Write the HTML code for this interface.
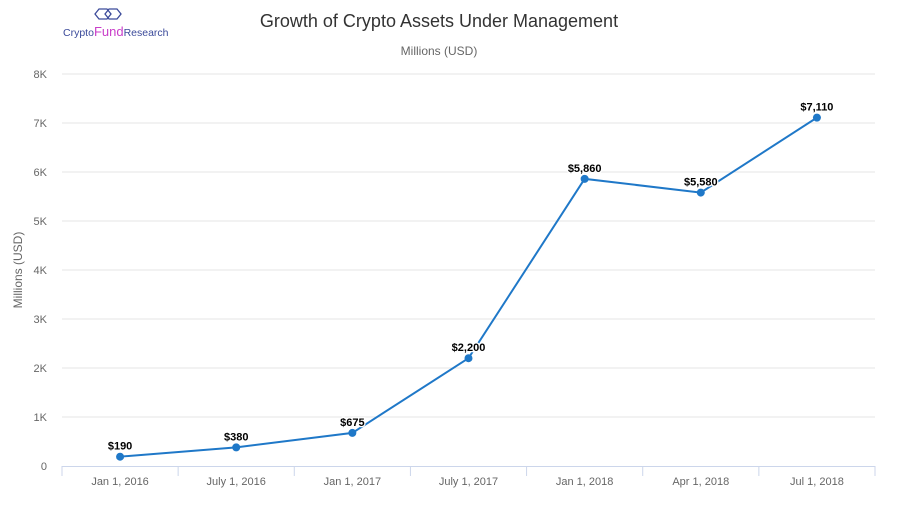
<!DOCTYPE html>
<html><head><meta charset="utf-8"><style>
body{margin:0;background:#fff;}
svg text{font-family:"Liberation Sans",sans-serif;}
</style></head><body>
<svg id="chart" width="900" height="509" xmlns="http://www.w3.org/2000/svg">
<rect width="900" height="509" fill="#fff"/>
<g>
<g fill="none" stroke="#3b4a9a" stroke-width="1.3">
<path d="M95 14 L99 9 L107 9 L111 14 L107 19 L99 19 Z"/>
<path d="M105 14 L109 9 L117 9 L121 14 L117 19 L109 19 Z"/>
</g>
<text x="63" y="36" font-size="10.5" fill="#3b4a9a">Crypto<tspan fill="#c93ec9" font-size="13">Fund</tspan>Research</text>
</g>
<text x="439" y="27" text-anchor="middle" font-size="18" fill="#333">Growth of Crypto Assets Under Management</text>
<text x="439" y="55" text-anchor="middle" font-size="12" fill="#666">Millions (USD)</text>
<text transform="translate(22,270) rotate(-90)" text-anchor="middle" font-size="12" fill="#666">Millions (USD)</text>
<g id="grid"></g><g id="yticks"></g><g id="xaxis"></g><g id="series"></g>
</svg>
<script>
const categories=["Jan 1, 2016","July 1, 2016","Jan 1, 2017","July 1, 2017","Jan 1, 2018","Apr 1, 2018","Jul 1, 2018"];
const values=[190,380,675,2200,5860,5580,7110];
const valueLabels=["$190","$380","$675","$2,200","$5,860","$5,580","$7,110"];
const yTicks=[0,1000,2000,3000,4000,5000,6000,7000,8000];
const yTickLabels=["0","1K","2K","3K","4K","5K","6K","7K","8K"];
const NS="http://www.w3.org/2000/svg";
const L=62,R=875,T=74,B=466;
const y=v=>B-(v/8000)*(B-T);
const bw=(R-L)/categories.length;
const x=i=>L+bw*(i+0.5);
function mk(p,tag,a,txt){const e=document.createElementNS(NS,tag);for(const k in a)e.setAttribute(k,a[k]);if(txt!==undefined)e.textContent=txt;p.appendChild(e);return e;}
const grid=document.getElementById('grid'),yt=document.getElementById('yticks'),xa=document.getElementById('xaxis'),se=document.getElementById('series');
yTicks.forEach((t,i)=>{
 if(t>0){const g=mk(grid,'line',{x1:L,x2:R,y1:y(t),y2:y(t),stroke:'#e6e6e6'});
 
 }
 const tl=mk(yt,'text',{x:47,y:y(t)+4,'text-anchor':'end','font-size':11,fill:'#666'},yTickLabels[i]);
 
 
});
const ax=mk(xa,'line',{x1:L,x2:R,y1:B+0.5,y2:B+0.5,stroke:'#ccd6eb'});


for(let i=0;i<=categories.length;i++){const tk=mk(xa,'line',{x1:L+bw*i,x2:L+bw*i,y1:B,y2:B+10,stroke:'#ccd6eb'});
 
 }
categories.forEach((c,i)=>{const t=mk(xa,'text',{x:x(i),y:485,'text-anchor':'middle','font-size':11,fill:'#666'},c);
 
 });
const pl=mk(se,'polyline',{points:values.map((v,i)=>x(i)+','+y(v)).join(' '),fill:'none',stroke:'#1f78c8','stroke-width':2});


values.forEach((v,i)=>{
 const c=mk(se,'circle',{cx:x(i),cy:y(v),r:4,fill:'#1f78c8'});
 
 
 const t=mk(se,'text',{x:x(i),y:y(v)-7,'text-anchor':'middle','font-size':11,'font-weight':'bold',fill:'#000',stroke:'#fff','stroke-width':2.5,'paint-order':'stroke'},valueLabels[i]);
 
 
});
</script>
</body></html>
